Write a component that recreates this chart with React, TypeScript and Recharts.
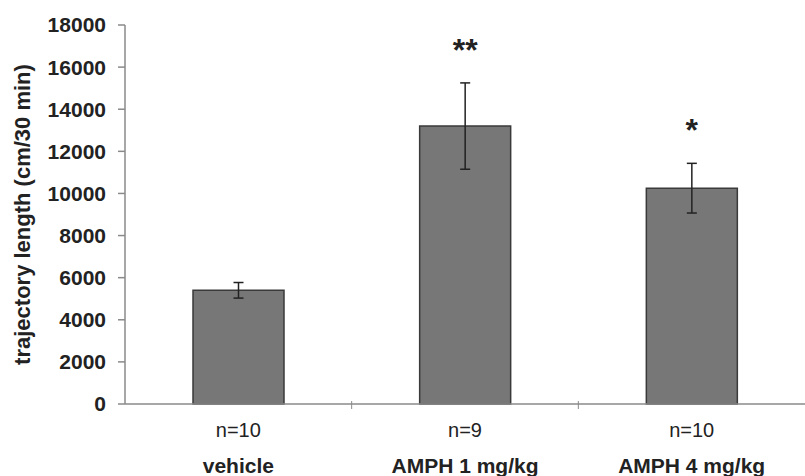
import React from 'react';
import { BarChart, Bar, XAxis, YAxis, ErrorBar } from 'recharts';

// Locomotor activity per treatment group
const categories = ['vehicle', 'AMPH 1 mg/kg', 'AMPH 4 mg/kg'];
const groupSizes = ['n=10', 'n=9', 'n=10'];
const meanLength = [5400, 13200, 10250];
const semLength = [370, 2050, 1180];
const significance = ['', '**', '*'];
const yTicks = [0, 2000, 4000, 6000, 8000, 10000, 12000, 14000, 16000, 18000];

const data = categories.map((name, i) => ({
  name,
  n: groupSizes[i],
  mean: meanLength[i],
  sem: semLength[i],
  sig: significance[i],
}));

const W = 805;
const H = 476;
const Y_AXIS_W = 125;
const PLOT_W = W - Y_AXIS_W;
const FONT = '"Liberation Sans", Arial, Helvetica, sans-serif';
const AXIS = '#8a8a8a';

const CategoryTick = (props: any) => {
  const { x, y, payload, index } = props;
  const band = PLOT_W / categories.length;
  return (
    <g>
      {index < categories.length - 1 && (
        <line x1={x + band / 2} x2={x + band / 2} y1={y - 3} y2={y + 5} stroke={AXIS} strokeWidth={1} />
      )}
      <text x={x} y={y + 33} textAnchor="middle" fontFamily={FONT} fontSize={20} fill="#222">
        {groupSizes[index]}
      </text>
      <text x={x} y={y + 69} textAnchor="middle" fontFamily={FONT} fontSize={21} fontWeight="bold" fill="#222">
        {payload.value}
      </text>
    </g>
  );
};

// asterisks sit above the top of each error bar
const renderStars = (props: any) => {
  const { x, y, width, height, index } = props;
  const sig = significance[index];
  if (!sig) return null;
  const pxPerUnit = height / meanLength[index];
  const errTop = y - semLength[index] * pxPerUnit;
  return (
    <text
      x={x + width / 2}
      y={errTop - 22}
      textAnchor="middle"
      fontFamily={FONT}
      fontSize={32}
      fontWeight="bold"
      fill="#222"
    >
      {sig}
    </text>
  );
};

const YTitle = (props: any) => {
  const { viewBox } = props;
  const cx = viewBox.x + 22;
  const cy = viewBox.y + viewBox.height / 2;
  return (
    <text
      x={cx}
      y={cy}
      transform={`rotate(-90, ${cx}, ${cy})`}
      textAnchor="middle"
      dominantBaseline="central"
      fontFamily={FONT}
      fontSize={22}
      fontWeight="bold"
      fill="#222"
    >
      trajectory length (cm/30 min)
    </text>
  );
};

export default function App() {
  return (
    <div style={{ position: 'absolute', left: 0, top: 0, width: W, height: H, background: '#fff' }}>
      <BarChart
        width={W}
        height={H}
        data={data}
        margin={{ top: 25, right: 0, bottom: 0, left: 0 }}
        barCategoryGap="30%"
      >
        <XAxis
          dataKey="name"
          height={72}
          axisLine={{ stroke: AXIS, strokeWidth: 1.5 }}
          tickLine={false}
          tickSize={0}
          tickMargin={0}
          tick={<CategoryTick />}
          interval={0}
        />
        <YAxis
          width={Y_AXIS_W}
          domain={[0, 18000]}
          ticks={yTicks}
          interval={0}
          axisLine={{ stroke: AXIS, strokeWidth: 1.5 }}
          tickLine={{ stroke: AXIS, strokeWidth: 1.5 }}
          tickSize={7}
          tickMargin={12}
          tick={{ fontFamily: FONT, fontSize: 21, fontWeight: 'bold', fill: '#222' }}
          label={<YTitle />}
        />
        <Bar
          dataKey="mean"
          fill="#777777"
          stroke="#3a3a3a"
          strokeWidth={1.5}
          isAnimationActive={false}
          label={renderStars}
        >
          <ErrorBar dataKey="sem" direction="y" width={5} stroke="#222" strokeWidth={1.5} isAnimationActive={false} />
        </Bar>
      </BarChart>
    </div>
  );
}
